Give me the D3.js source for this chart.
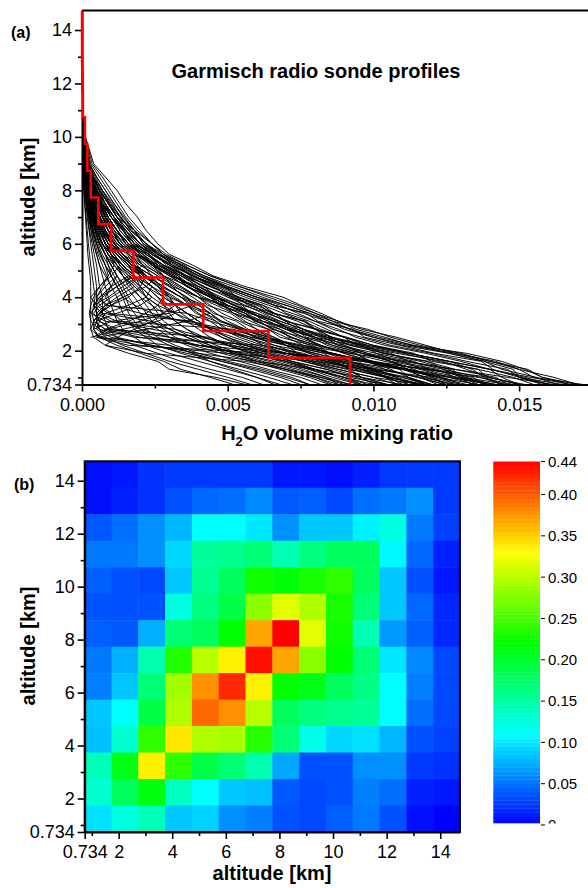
<!DOCTYPE html>
<html><head><meta charset="utf-8">
<script src="https://cdn.jsdelivr.net/npm/d3@7"></script>
<style>
body{margin:0;background:#fff}
svg{display:block}
text{font-family:"Liberation Sans",Arial,Helvetica,sans-serif;fill:#000}
</style>
</head><body>
<svg id="chart" width="588" height="888"></svg>
<script>
// ---------------- DATA ----------------
// panel (a): altitude levels (km) of the sonde profiles
const levels = [0.734,1.0,1.3,1.6,1.9,2.2,2.5,2.8,3.1,3.4,3.7,4.0,4.4,4.8,5.2,5.6,6.0,6.5,7.0,7.5,8.0,8.5,9.0,10.0,11.0,14.734];
// H2O volume mixing ratio per profile, in units of 1e-4
const profiles = [
[172,155,150,140,128,112,100,90,84,78,70,62,52,42,34,27,22,17,13,10,7,4,2.5,0.8,0.2,0],
[165,150,146,132,120,106,96,86,80,72,64,56,47,38,30,24,19,15,11,8,6,4,2,0.7,0.2,0],
[160,152,140,126,112,100,90,82,76,69,62,54,44,36,28,22,18,14,11,8,5,3,1.8,0.6,0.2,0],
[155,148,136,122,110,96,84,74,66,60,52,46,38,32,26,21,16,12,9,7,5,3,1.5,0.5,0.1,0],
[150,140,132,124,108,94,80,70,64,58,54,48,40,30,24,20,17,14,10,7,4,2.5,1.4,0.5,0.1,0],
[146,142,128,118,104,92,82,76,68,62,56,50,42,34,26,19,14,10,7,5,3.5,2,1.2,0.4,0.1,0],
[142,130,124,112,98,88,80,72,66,58,50,44,36,30,24,18,14,11,8,6,4,2.4,1.2,0.4,0.1,0],
[138,132,120,106,96,86,76,70,62,54,48,40,33,27,22,18,13,10,7.5,5.5,3.5,2,1,0.3,0.1,0],
[135,126,116,104,92,80,72,66,60,56,50,44,38,33,27,22,18,14,10,7,5,3,1.5,0.5,0.1,0],
[130,124,112,100,90,82,74,68,62,56,50,46,40,34,28,22,16,12,9,6.5,4.5,2.8,1.5,0.5,0.1,0],
[128,118,110,98,86,76,70,64,58,52,46,40,34,28,24,20,16,12,8,6,4,2.5,1.3,0.4,0.1,0],
[125,115,104,92,80,70,64,60,56,52,48,44,38,31,25,19,15,12,9,6,4,2.2,1.2,0.4,0.1,0],
[120,112,98,88,78,70,62,56,50,46,42,38,32,26,20,16,12,9,7,5,3.5,2,1,0.3,0.1,0],
[118,110,100,86,74,66,60,54,48,44,40,36,30,24,18,14,11,9,7,5,3,1.8,1,0.3,0.1,0],
[115,106,96,84,72,64,56,50,46,42,38,34,28,22,18,14,11,8,6,4.5,3,1.8,0.9,0.3,0.1,0],
[112,104,92,80,70,62,54,48,44,40,36,32,26,21,17,14,11,8,6,4,2.8,1.6,0.8,0.3,0.1,0],
[108,100,88,78,68,58,50,44,40,36,32,30,26,22,18,14,10,8,6,4,2.6,1.5,0.8,0.3,0.1,0],
[105,96,86,76,66,56,48,42,38,34,32,28,24,20,16,12,9,7,5,3.5,2.4,1.4,0.7,0.2,0.05,0],
[102,94,84,72,62,54,48,44,40,36,32,28,22,18,14,11,9,7,5,3.5,2.2,1.3,0.7,0.2,0.05,0],
[98,90,80,70,60,50,44,40,36,32,28,24,20,16,13,10,8,6,4.5,3,2,1.2,0.6,0.2,0.05,0],
[95,86,78,68,58,50,42,36,32,30,28,26,22,18,14,11,8,6,4.5,3,2,1.2,0.6,0.2,0.05,0],
[92,84,74,64,54,46,40,36,32,28,24,20,17,14,11,9,7,5.5,4,3,2,1.1,0.6,0.2,0.05,0],
[90,82,72,62,52,44,38,32,28,26,24,22,18,14,12,9,7,5,4,2.8,1.8,1,0.5,0.2,0.05,0],
[88,80,70,60,50,42,36,30,26,24,22,20,16,14,12,10,8,6,4,2.6,1.6,0.9,0.5,0.2,0.05,0],
[85,78,68,58,48,38,32,28,24,22,20,18,15,12,10,8,6,4.5,3.5,2.5,1.5,0.9,0.5,0.2,0.05,0],
[82,75,64,54,44,36,30,26,22,20,18,16,14,12,10,8,6,4.5,3.2,2.2,1.4,0.8,0.4,0.1,0.05,0],
[78,72,62,50,40,32,26,22,20,18,16,15,13,11,9,7,5.5,4,3,2,1.3,0.8,0.4,0.1,0.05,0],
[75,68,58,48,38,30,24,20,18,16,15,14,12,10,8,6.5,5,3.8,2.8,1.8,1.2,0.7,0.4,0.1,0.05,0],
[72,64,54,44,34,26,22,18,16,14,13,12,10,8.5,7,5.5,4.5,3.5,2.5,1.8,1.1,0.7,0.3,0.1,0.05,0],
[68,60,50,40,30,22,18,14,12,11,10,9,8,7,6,5,4,3,2.2,1.6,1,0.6,0.3,0.1,0.05,0],
[62,55,44,34,26,18,12,9,8,7,7,7,6,5.5,5,4.2,3.5,2.6,2,1.4,0.9,0.5,0.3,0.1,0.05,0],
[58,50,40,30,22,14,8,6,5,5,5,5,5,4.5,4,3.5,3,2.4,1.8,1.3,0.8,0.5,0.3,0.1,0.05,0],
[52,44,34,28,20,12,6,4,4,3.5,4,4.5,4,3.5,3,2.6,2.2,1.8,1.4,1,0.7,0.4,0.2,0.1,0.05,0],
[56,46,30,26,16,8,4,3,3,3,3,3,3,2.8,2.4,2,1.8,1.5,1.2,0.9,0.6,0.4,0.2,0.1,0.05,0],
[130,120,100,80,50,20,6,4,5,12,20,24,20,16,12,9,7,5,4,3,2,1.2,0.6,0.2,0.05,0],
[110,96,80,60,40,24,10,5,6,8,16,22,24,18,14,10,7,5,3.5,2.5,1.6,1,0.5,0.2,0.05,0],
[150,140,120,96,70,40,20,8,4,6,10,16,20,22,16,12,9,6,4,3,2,1.2,0.6,0.2,0.05,0],
[140,126,110,90,70,50,30,12,6,5,8,14,22,26,20,14,10,7,5,3.5,2.2,1.2,0.6,0.2,0.05,0],
[120,110,96,84,70,56,40,24,10,5,4,6,12,18,16,12,8,6,4,2.8,1.8,1,0.5,0.2,0.05,0],
[100,90,80,70,56,40,30,20,14,10,6,5,8,12,10,8,6,4.5,3.2,2.2,1.4,0.8,0.4,0.1,0.05,0],
[170,158,152,144,132,113,104,94,88,82,75,69,56,45,38,30,26,22,19,15,12,8,4,1.2,0.4,0],
[160,150,148,138,126,110,100,92,86,80,74,66,54,44,36,29,24,20,16,13,10,7,3.5,1,0.3,0],
[150,144,140,130,118,104,94,88,80,74,68,60,50,42,34,28,24,19,15,12,9,6,3,0.9,0.3,0],
[145,138,134,126,112,98,90,84,78,70,66,58,48,40,32,26,22,18,14,11,8,5,2.5,0.8,0.2,0],
[136,130,126,116,104,92,86,80,74,66,60,54,46,38,31,25,20,16,12,9,6,4,2,0.6,0.2,0],
[125,120,114,106,96,86,80,74,70,64,58,52,44,36,30,24,20,16,12,9,6,4,2,0.6,0.2,0],
[118,112,106,98,90,82,76,70,64,58,52,47,40,34,28,23,19,15,12,9,6,3.5,1.8,0.5,0.1,0],
[108,104,100,92,84,78,72,66,60,54,48,42,36,30,25,21,17,13,10,7,5,3,1.6,0.5,0.1,0],
[100,96,92,86,78,72,66,60,54,48,44,40,34,28,23,19,15,12,9,6.5,4.5,2.8,1.4,0.4,0.1,0],
[null,null,null,null,null,null,3,14,26,32,30,26,22,17,13,10,8,6,4.5,3.2,2,1.2,0.6,0.2,0.05,0],
[null,null,null,null,null,null,4,8,16,22,26,28,24,18,14,10,7,5,3.5,2.5,1.6,1,0.5,0.2,0.05,0],
[88,84,76,66,54,40,24,10,6,4,6,10,16,20,18,14,10,7,5,3.5,2.2,1.3,0.6,0.2,0.05,0],
[78,70,60,48,36,24,12,6,3,2.5,3,4,6,9,11,10,8,6,4,3,2,1.2,0.6,0.2,0.05,0],
[162,146,128,110,92,76,62,50,36,20,10,8,10,12,10,8,6,4.5,3.5,2.5,1.6,1,0.5,0.2,0.05,0],
[148,136,118,100,84,70,58,46,34,24,18,14,12,10,9,8,6.5,5,3.8,2.6,1.7,1,0.5,0.2,0.05,0],
[116,106,94,82,70,60,52,44,38,32,26,22,20,18,16,13,10,8,6,4.2,2.8,1.6,0.8,0.3,0.05,0],
[96,88,80,72,64,56,50,44,40,36,32,29,26,22,19,16,13,10,8,6,4,2.4,1.2,0.4,0.1,0],
[132,122,110,98,86,74,64,56,48,42,36,31,26,21,17,13,10,7.5,5.5,4,2.6,1.5,0.7,0.2,0.05,0],
[168,154,140,126,112,98,86,76,68,60,52,46,38,31,25,20,16,12,9,6.5,4.5,2.8,1.4,0.4,0.1,0],
[158,150,141,137,121,109,97,93,81,77,66,60,49,41,35,26,21,18,12,9,6.5,3.5,2,0.6,0.2,0],
[152,139,136,120,114,100,91,80,77,65,61,51,45,35,29,25,18,15,10,7.5,5,3.2,1.6,0.5,0.1,0],
[144,137,124,119,103,97,85,81,70,64,55,52,41,36,27,23,17,13,11,7,4.6,2.6,1.4,0.4,0.1,0],
[140,128,122,108,101,88,83,71,67,57,53,45,39,31,25,19,16,11,8.5,6,3.8,2.2,1.2,0.4,0.1,0],
[134,129,117,110,96,90,77,73,62,59,49,45,36,32,24,21,15,12,8,6.5,4,2.4,1.1,0.4,0.1,0],
[127,117,112,99,94,81,76,65,61,52,49,41,37,28,25,18,15,10,8,5.5,3.6,2.1,1,0.3,0.1,0],
[122,116,104,98,85,79,68,64,55,51,43,40,31,28,21,18,13,10.5,7,5.4,3.2,2,0.9,0.3,0.1,0],
[116,108,101,88,83,70,66,57,53,45,42,35,31,24,21,16,13,9,7.2,4.8,3.1,1.7,0.9,0.3,0.1,0],
[110,105,92,87,74,70,59,55,47,44,37,34,27,24,18,15.5,11,9,6.2,4.6,2.7,1.7,0.8,0.3,0.1,0],
[104,96,91,78,74,62,58,49,46,39,36,30,27,21,18,14,11.5,8,6.4,4.1,2.8,1.5,0.8,0.2,0.05,0],
[146,131,127,112,106,94,90,80,76,66,62,53,49,40,34,28,24,18,14.5,11,8,5,2.6,0.8,0.2,0],
[139,134,119,114,101,96,84,80,70,66,57,53,44,39,31,27,21,18,13,10.5,7,4.6,2.2,0.7,0.2,0],
[128,123,112,106,98,90,84,76,71,63,59,50,46,37,33,26,22,16.5,13.5,9.5,7,4,2,0.6,0.1,0],
[120,112,109,98,94,84,79,71,66,58,55,46,42,35,30,25,20,16,12,9.4,6,3.8,1.9,0.5,0.1,0],
[112,108,98,95,85,81,71,68,59,56,47,44,36,33,26,23,17,14.5,10,8,5.2,3.4,1.6,0.5,0.1,0],
[118,104,96,84,76,62,18,6,5,7,4,6,10,8,6,5,4,3.2,2.4,1.7,1.1,0.7,0.3,0.1,0.05,0],
[96,90,78,70,58,50,44,8,4,6,9,5,7,9,8,6,5,3.6,2.6,1.9,1.2,0.7,0.3,0.1,0.05,0],
[136,122,110,96,86,74,60,52,12,6,8,12,18,14,11,8,6,4.5,3.4,2.4,1.5,0.9,0.4,0.1,0.05,0],
[124,116,102,90,80,66,56,46,38,9,5,7,12,17,14,10,8,5.5,4,3,1.9,1.1,0.5,0.2,0.05,0],
[104,92,84,72,62,52,42,32,8,3,5,3,6,10,13,11,8,6,4.2,3,2,1.1,0.5,0.2,0.05,0],
[86,80,70,60,52,44,36,30,24,7,4,9,14,20,17,13,9,6.5,4.6,3.2,2,1.2,0.6,0.2,0.05,0],
[142,128,112,98,86,72,64,54,44,36,8,6,10,16,21,17,12,9,6,4.4,2.8,1.6,0.8,0.3,0.05,0],
[116,100,88,76,64,16,5,9,20,28,32,30,24,20,15,12,9,6.5,4.6,3.2,2,1.2,0.6,0.2,0.05,0],
[92,82,70,56,22,8,12,18,24,28,26,22,19,15,12,9,7,5,3.6,2.5,1.6,1,0.5,0.2,0.05,0],
[66,60,52,44,38,30,6,3,4,6,10,14,12,10,8,6.5,5,3.8,2.8,2,1.3,0.8,0.4,0.1,0.05,0],
[null,null,null,null,null,null,5,22,36,44,40,34,28,22,17,13,10,7.5,5.5,4,2.6,1.5,0.7,0.2,0.05,0],
[null,null,null,null,null,null,null,4,10,30,38,36,30,24,18,14,10,7,5,3.6,2.4,1.4,0.7,0.2,0.05,0],
[170,162,150,142,128,118,108,96,88,80,72,64,54,44,36,28,22,17,13,9,6,3.5,1.8,0.5,0.1,0],
[167,158,153,140,130,116,106,98,86,78,70,60,50,40,33,26,20,15,11,8,5.5,3.2,1.6,0.5,0.1,0],
[163,156,144,138,126,114,102,92,84,76,66,58,48,38,31,24,18,14,10,7,5,3,1.4,0.4,0.1,0]
];
// mean profile on 1-km layers (red steps): layer bottoms and values
const layerBottoms = [0.734,1.734,2.734,3.734,4.734,5.734,6.734,7.734,8.734,9.734,10.734,11.734,12.734,13.734];
const layerMeans   = [0.0092,0.0064,0.00416,0.00278,0.00176,0.00100,0.00056,0.00030,0.00018,0.00010,0.00003,0.00001,0.000005,0.000003];
const xTicksA = [0,0.005,0.010,0.015];
const xMinorA = [0.0025,0.0075,0.0125];
const altTicks = [0.734,2,4,6,8,10,12,14];
const altMinor = [1,3,5,7,9,11,13];

// panel (b): correlation matrix, rows from top (14.234 km) to bottom (1.234 km)
const cellBottoms = [0.734,1.734,2.734,3.734,4.734,5.734,6.734,7.734,8.734,9.734,10.734,11.734,12.734,13.734];
const matrixRows = [
[0.007,0.010,0.021,0.024,0.024,0.024,0.024,0.010,0.010,0.007,0.014,0.024,0.024,0.024],
[0.007,0.014,0.021,0.035,0.045,0.048,0.059,0.038,0.041,0.031,0.048,0.052,0.062,0.024],
[0.038,0.048,0.062,0.079,0.110,0.110,0.100,0.062,0.086,0.086,0.104,0.123,0.052,0.028],
[0.052,0.052,0.062,0.093,0.154,0.159,0.170,0.143,0.165,0.180,0.180,0.107,0.045,0.014],
[0.041,0.035,0.031,0.086,0.157,0.180,0.227,0.216,0.230,0.240,0.180,0.086,0.035,0.010],
[0.035,0.035,0.035,0.123,0.165,0.190,0.280,0.317,0.296,0.230,0.170,0.086,0.045,0.017],
[0.041,0.038,0.076,0.170,0.180,0.220,0.368,0.440,0.317,0.227,0.143,0.066,0.041,0.017],
[0.052,0.076,0.145,0.235,0.300,0.336,0.433,0.368,0.280,0.220,0.170,0.100,0.059,0.031],
[0.055,0.086,0.170,0.290,0.378,0.423,0.336,0.220,0.210,0.180,0.163,0.110,0.055,0.031],
[0.086,0.110,0.190,0.296,0.395,0.378,0.300,0.180,0.165,0.159,0.154,0.110,0.048,0.031],
[0.083,0.130,0.240,0.340,0.296,0.292,0.237,0.170,0.120,0.093,0.097,0.079,0.035,0.028],
[0.140,0.210,0.336,0.240,0.190,0.170,0.145,0.072,0.035,0.035,0.062,0.062,0.024,0.021],
[0.130,0.180,0.215,0.136,0.110,0.086,0.083,0.038,0.031,0.035,0.055,0.048,0.014,0.010],
[0.097,0.123,0.140,0.086,0.090,0.062,0.055,0.035,0.031,0.041,0.052,0.035,0.007,0.000]
];
const cbTicks = [0,0.05,0.10,0.15,0.20,0.25,0.30,0.35,0.40,0.44];
const cmapStops = [0,0.11,0.22,0.33,0.44];
const cmapColors = ["#0000ff","#00ffff","#00ff00","#ffff00","#ff0000"];

// ---------------- DRAW ----------------
const svg = d3.select("#chart");
const FONT = 18;

// ===== Panel (a) =====
const xA = d3.scaleLinear().domain([0,0.0175]).range([82,592]);
const yA = d3.scaleLinear().domain([0.734,14.734]).range([384.5,10.4]);

svg.append("clipPath").attr("id","clipA").append("rect")
  .attr("x",xA(0)).attr("y",yA(14.734)).attr("width",588-xA(0)).attr("height",yA(0.734)-yA(14.734));

const gA = svg.append("g");
const prof = gA.append("g").attr("clip-path","url(#clipA)");
const line = d3.line().defined(d=>d[0]!=null).x(d=>xA(d[0]*1e-4)).y(d=>yA(d[1]));
prof.selectAll("path.p").data(profiles).join("path").attr("class","p")
  .attr("d",p=>line(p.map((v,i)=>[v,levels[i]])))
  .attr("fill","none").attr("stroke","#000").attr("stroke-width",0.95);

// axes
const fmtAlt = d=> d===0.734 ? "0.734" : String(d);
gA.append("g").attr("transform",`translate(${xA(0)},0)`)
  .call(d3.axisLeft(yA).tickValues(altTicks).tickFormat(fmtAlt).tickSize(7).tickSizeOuter(0).tickPadding(3));
gA.append("g").attr("transform",`translate(${xA(0)},0)`)
  .call(d3.axisLeft(yA).tickValues(altMinor).tickFormat("").tickSize(4).tickSizeOuter(0))
  .select(".domain").remove();
gA.append("g").attr("transform",`translate(0,${yA(0.734)})`)
  .call(d3.axisBottom(xA).tickValues(xTicksA).tickFormat(d3.format(".3f")).tickSize(7).tickSizeOuter(0).tickPadding(7));
gA.append("g").attr("transform",`translate(0,${yA(0.734)})`)
  .call(d3.axisBottom(xA).tickValues(xMinorA).tickFormat("").tickSize(4).tickSizeOuter(0))
  .select(".domain").remove();
gA.append("line").attr("x1",xA(0)).attr("x2",600).attr("y1",yA(14.734)).attr("y2",yA(14.734))
  .attr("stroke","#000").attr("stroke-width",2);

// ===== Panel (b) =====
const xB = d3.scaleLinear().domain([0.734,14.734]).range([84.7,459.9]);
const yB = d3.scaleLinear().domain([0.734,14.734]).range([832,461.3]);
const color = d3.scaleLinear().domain(cmapStops).range(cmapColors).clamp(true);

const gB = svg.append("g");
const cells = [];
matrixRows.forEach((row,ri)=>{
  const yb = cellBottoms[cellBottoms.length-1-ri];
  row.forEach((v,ci)=>cells.push({x0:cellBottoms[ci],y0:yb,v}));
});
gB.selectAll("rect.cell").data(cells).join("rect").attr("class","cell")
  .attr("x",d=>xB(d.x0)).attr("y",d=>yB(d.y0+1))
  .attr("width",d=>xB(d.x0+1)-xB(d.x0)+0.5).attr("height",d=>yB(d.y0)-yB(d.y0+1)+0.5)
  .attr("fill",d=>color(d.v));

gB.append("g").attr("transform",`translate(${xB(0.734)},0)`)
  .call(d3.axisLeft(yB).tickValues(altTicks).tickFormat(fmtAlt).tickSize(7).tickSizeOuter(0).tickPadding(3));
gB.append("g").attr("transform",`translate(${xB(0.734)},0)`)
  .call(d3.axisLeft(yB).tickValues(altMinor).tickFormat("").tickSize(4).tickSizeOuter(0))
  .select(".domain").remove();
gB.append("g").attr("transform",`translate(0,${yB(0.734)})`)
  .call(d3.axisBottom(xB).tickValues(altTicks).tickFormat(fmtAlt).tickSize(7).tickSizeOuter(0).tickPadding(6));
gB.append("g").attr("transform",`translate(0,${yB(0.734)})`)
  .call(d3.axisBottom(xB).tickValues(altMinor).tickFormat("").tickSize(4).tickSizeOuter(0))
  .select(".domain").remove();
gB.append("rect").attr("x",xB(0.734)).attr("y",yB(14.734))
  .attr("width",xB(14.734)-xB(0.734)).attr("height",yB(0.734)-yB(14.734))
  .attr("fill","none").attr("stroke","#000").attr("stroke-width",2);

// colorbar
const cbY = d3.scaleLinear().domain([0,0.44]).range([825,461.5]);
const cbX0 = 493.3, cbX1 = 540;
const nSteps = 88;
const cbSteps = d3.range(nSteps).map(i=>0.44*i/nSteps);
const gC = svg.append("g");
gC.selectAll("rect").data(cbSteps).join("rect")
  .attr("x",cbX0).attr("width",cbX1-cbX0)
  .attr("y",d=>cbY(d+0.44/nSteps))
  .attr("height",d=>Math.max(0,Math.min(823,cbY(d))-cbY(d+0.44/nSteps))+0.3)
  .attr("fill",d=>color(d+0.22/nSteps));
svg.append("clipPath").attr("id","clipCB").append("rect").attr("x",cbX1).attr("y",440).attr("width",60).attr("height",383.5);
const cbt = gC.append("g").selectAll("g").data(cbTicks).join("g").attr("transform",d=>`translate(0,${cbY(d)})`);
cbt.append("line").attr("x1",cbX1+1).attr("x2",cbX1+5).attr("stroke","#000").attr("stroke-width",1);
const cbLabels = gC.append("g").attr("clip-path","url(#clipCB)");
cbLabels.selectAll("text").data(cbTicks).join("text")
  .attr("x",cbX1+8).attr("y",d=>cbY(d)).attr("dy","0.36em").style("font-size","15px")
  .text(d=> d===0 ? "0" : d3.format(".2f")(d));

// styles for axes
svg.selectAll(".tick text").style("font-size",FONT+"px").attr("fill","#000");
svg.selectAll(".tick line").attr("stroke","#000").attr("stroke-width",1.6);
svg.selectAll(".domain").attr("stroke","#000").attr("stroke-width",2);

// red mean-profile steps drawn on top of the axis
const stepPts = layerBottoms.flatMap((b,i)=>[[layerMeans[i],b],[layerMeans[i],b+1]]);
gA.append("path").attr("d",d3.line().x(d=>xA(d[0])).y(d=>yA(d[1]))(stepPts))
  .attr("fill","none").attr("stroke","#ff0000").attr("stroke-width",2.6);

// ===== Texts =====
svg.append("text").attr("x",316).attr("y",78).attr("text-anchor","middle")
  .style("font-size","20px").style("font-weight","bold").text("Garmisch radio sonde profiles");
svg.append("text").attr("x",11).attr("y",38).style("font-size","16px").style("font-weight","bold").text("(a)");
svg.append("text").attr("x",14).attr("y",490).style("font-size","16px").style("font-weight","bold").text("(b)");

const xt = svg.append("text").attr("x",337).attr("y",440).attr("text-anchor","middle")
  .style("font-size","20px").style("font-weight","bold");
xt.append("tspan").text("H");
xt.append("tspan").attr("dy",6).style("font-size","13px").text("2");
xt.append("tspan").attr("dy",-6).text("O volume mixing ratio");

svg.append("text").attr("transform","translate(35,197) rotate(-90)").attr("text-anchor","middle")
  .style("font-size","20px").style("font-weight","bold").text("altitude [km]");
svg.append("text").attr("transform","translate(35,646) rotate(-90)").attr("text-anchor","middle")
  .style("font-size","20px").style("font-weight","bold").text("altitude [km]");
svg.append("text").attr("x",272).attr("y",880).attr("text-anchor","middle")
  .style("font-size","20px").style("font-weight","bold").text("altitude [km]");
</script>
</body></html>
